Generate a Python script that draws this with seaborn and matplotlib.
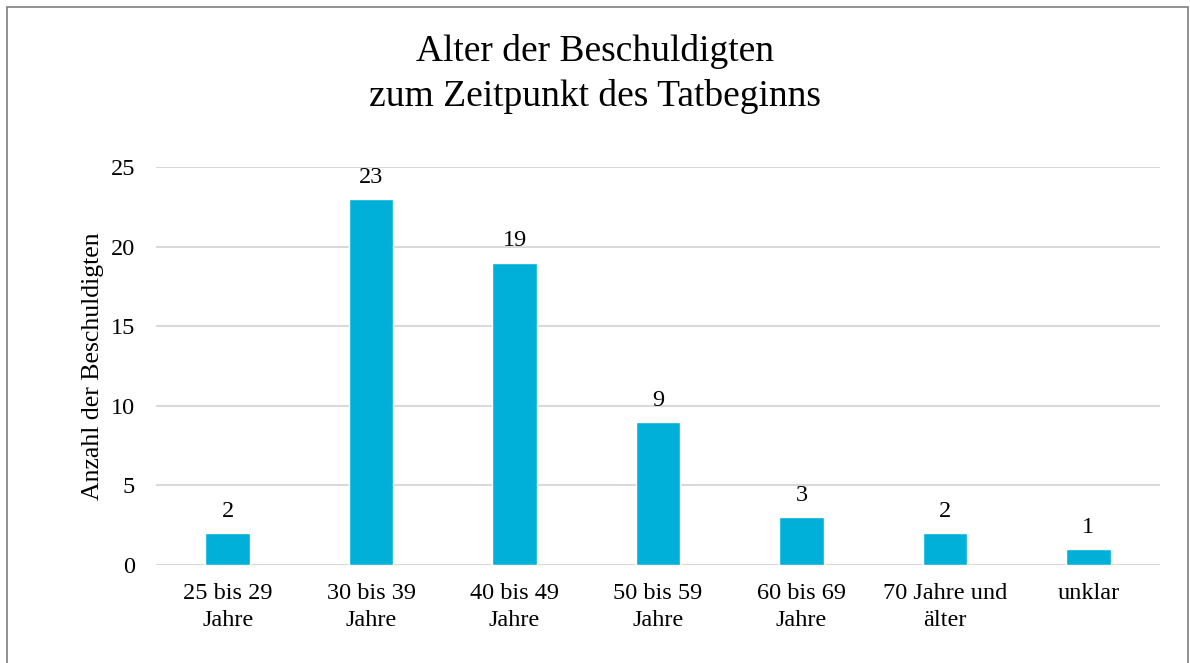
import matplotlib
matplotlib.use('Agg')
import matplotlib.pyplot as plt
import seaborn as sns
import pandas as pd
from matplotlib.patches import Rectangle

# Daten
categories = ['25 bis 29\nJahre', '30 bis 39\nJahre', '40 bis 49\nJahre', '50 bis 59\nJahre',
              '60 bis 69\nJahre', '70 Jahre und\nälter', 'unklar']
counts = [2, 23, 19, 9, 3, 2, 1]
y_ticks = [0, 5, 10, 15, 20, 25]

df = pd.DataFrame({'Alter': categories, 'Anzahl': counts})

sns.set_style('white')
plt.rcParams['font.family'] = ['Liberation Serif', 'DejaVu Serif']
plt.rcParams['text.color'] = 'black'
plt.rcParams['xtick.color'] = 'black'
plt.rcParams['ytick.color'] = 'black'
plt.rcParams['axes.labelcolor'] = 'black'

fig = plt.figure(figsize=(11.9, 6.63), dpi=100)
ax = fig.add_axes([156 / 1190, 1 - 565 / 663, (1160 - 156) / 1190, (565 - 167) / 663])

sns.barplot(data=df, x='Alter', y='Anzahl', color='#00B0D8', width=0.31,
            saturation=1, ax=ax, zorder=3)

# Werte über den Balken
for i, v in enumerate(counts):
    ax.annotate(str(v), (i, v), xytext=(0, 8), textcoords='offset points',
                ha='center', va='bottom', fontsize=17.5)

ax.set_ylim(0, 25)
ax.set_yticks(y_ticks)
ax.yaxis.grid(True, color='#d9d9d9', linewidth=1.5, zorder=0)
ax.set_axisbelow(True)
ax.tick_params(axis='both', length=0, labelsize=17.5)
ax.tick_params(axis='y', pad=15)
ax.tick_params(axis='x', pad=13)
for lbl in ax.get_xticklabels():
    lbl.set_linespacing(1.4)
for s in ax.spines.values():
    s.set_visible(False)
ax.set_xlabel('')
ax.set_ylabel('Anzahl der Beschuldigten', fontsize=18.5, labelpad=5)

fig.text(0.5, 1 - 74 / 663, 'Alter der Beschuldigten\nzum Zeitpunkt des Tatbeginns',
         ha='center', va='center', fontsize=27, linespacing=1.4)

# Rahmen um die Grafik
fig.patches.append(Rectangle((7 / 1190, -0.01), 1181 / 1190, 1 - 7 / 663 + 0.01,
                             transform=fig.transFigure, fill=False,
                             edgecolor='#7f7f7f', linewidth=1.2))

fig.savefig('out.png', dpi=100)
